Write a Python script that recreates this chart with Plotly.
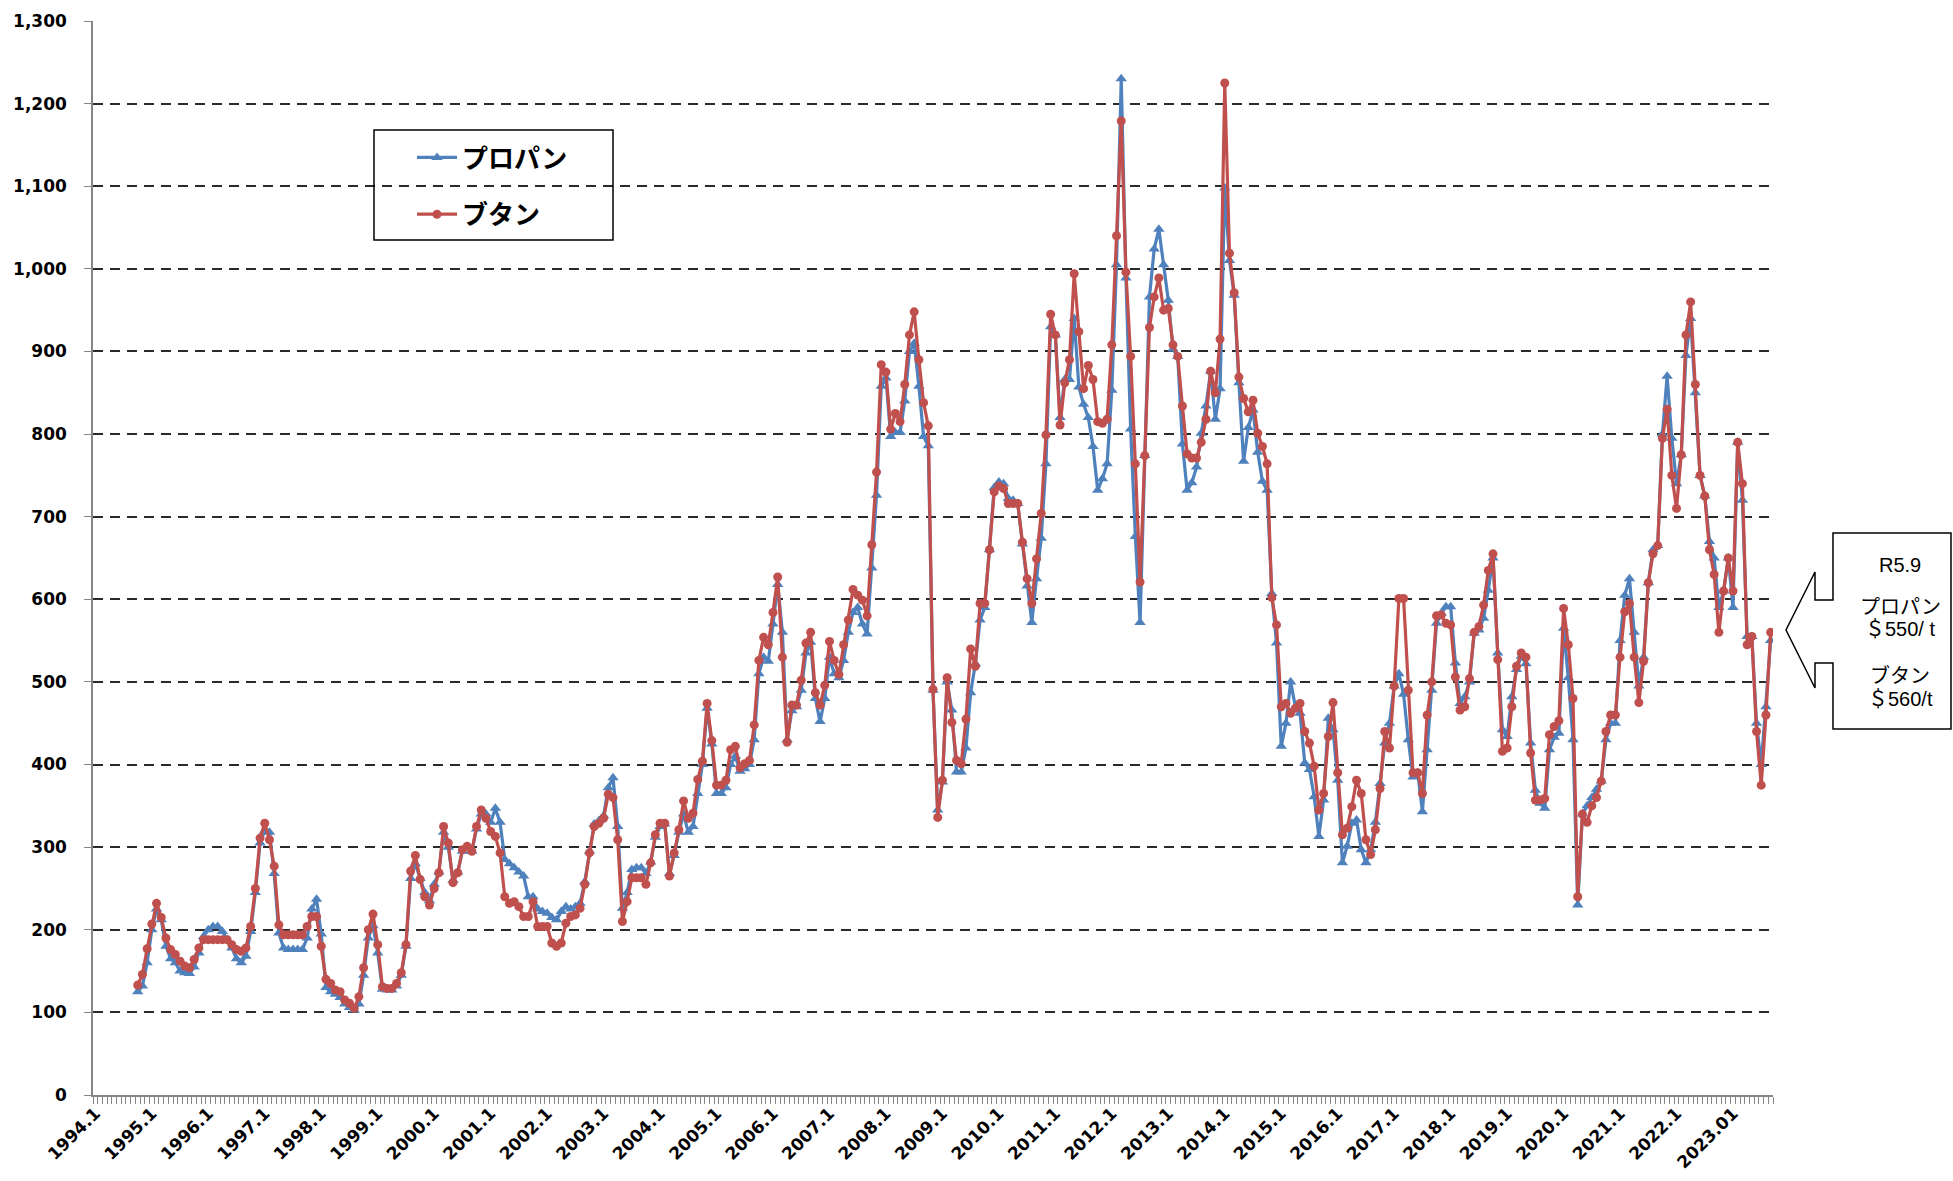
import plotly.graph_objects as go

# Monthly axis: 1994.1 .. 2023.9 (one category per month)
FIRST_YEAR, LAST_YEAR, LAST_MONTH = 1994, 2023, 9
months = [(y, m) for y in range(FIRST_YEAR, LAST_YEAR + 1) for m in range(1, 13)
          if (y, m) <= (LAST_YEAR, LAST_MONTH)]
data_start = (1994, 10)

# Tick labels shown at each January
tick_labels = [f"{y}.1" for y in range(1994, 2023)] + ["2023.01"]

series_names = ["プロパン", "ブタン"]

# Propane contract price ($/t), one line per year, starting 1994.10
propane = [
    125, 132, 160,                                               # 1994 (Oct-Dec)
    200, 225, 212, 180, 165, 160, 150, 148, 147, 155, 172, 192,  # 1995
    200, 204, 204, 198, 188, 178, 165, 160, 168, 198, 245, 305,  # 1996
    320, 318, 268, 196, 178, 176, 176, 176, 176, 190, 225, 237,  # 1997
    195, 130, 125, 122, 118, 110, 106, 103, 110, 145, 190, 205,  # 1998
    172, 128, 127, 127, 132, 145, 180, 262, 280, 262, 245, 235,  # 1999
    255, 270, 318, 300, 260, 270, 295, 300, 295, 322, 340, 340,  # 2000
    330, 347, 330, 285, 280, 275, 270, 265, 240, 240, 225, 222,  # 2001
    220, 215, 212, 222, 228, 225, 228, 232, 258, 295, 328, 332,  # 2002
    338, 372, 384, 325, 226, 245, 273, 275, 275, 268, 282, 312,  # 2003
    325, 328, 268, 290, 318, 340, 318, 325, 365, 400, 468, 425,  # 2004
    365, 365, 372, 400, 410, 392, 395, 400, 430, 510, 530, 525,  # 2005
    570, 618, 560, 430, 465, 470, 490, 535, 548, 480, 452, 480,  # 2006
    530, 510, 505, 526, 560, 584, 590, 570, 558, 638, 726, 858,  # 2007
    868, 797, 802, 802, 840, 900, 910, 858, 797, 786, 490, 345,  # 2008
    379, 500, 466, 391, 391, 420, 487, 522, 575, 590, 660, 735,  # 2009
    742, 740, 722, 720, 716, 667, 616, 572, 625, 674, 764, 930,  # 2010
    920, 820, 866, 866, 940, 857, 836, 820, 785, 732, 746, 764,  # 2011
    853, 1005, 1230, 989, 806, 676, 572, 774, 966, 1024, 1048, 1005,  # 2012
    962, 903, 894, 788, 732, 741, 760, 801, 834, 876, 818, 855,  # 2013
    1098, 1010, 968, 862, 767, 808, 829, 778, 743, 732, 607, 547,  # 2014
    422, 450, 500, 470, 462, 402, 394, 361, 313, 357, 456, 442,  # 2015
    381, 281, 301, 329, 333, 297, 281, 297, 330, 377, 426, 450,  # 2016
    495, 510, 485, 430, 385, 390, 343, 418, 490, 571, 583, 591,  # 2017
    591, 523, 474, 482, 500, 559, 563, 577, 611, 650, 535, 442,  # 2018
    434, 482, 515, 531, 522, 426, 369, 353, 347, 418, 433, 438,  # 2019
    565, 505, 430, 230, 340, 350, 360, 370, 380, 430, 450, 450,  # 2020
    550, 605, 625, 560, 495, 530, 620, 660, 665, 800, 870, 795,  # 2021
    740, 775, 895, 940, 850, 750, 725, 670, 650, 590, 610, 650,  # 2022
    590, 790, 720, 555, 555, 450, 400, 470, 550,                 # 2023 (Jan-Sep)
]

# Butane contract price ($/t), one line per year, starting 1994.10
butane = [
    133, 146, 177,                                               # 1994 (Oct-Dec)
    207, 232, 215, 190, 176, 170, 162, 156, 154, 164, 178, 188,  # 1995
    188, 188, 188, 188, 188, 182, 176, 174, 178, 204, 250, 311,  # 1996
    329, 309, 277, 206, 194, 194, 194, 194, 194, 204, 216, 216,  # 1997
    180, 140, 135, 127, 125, 115, 111, 105, 119, 154, 200, 219,  # 1998
    182, 131, 129, 129, 135, 148, 182, 271, 290, 261, 240, 230,  # 1999
    250, 269, 325, 305, 257, 269, 297, 301, 295, 325, 345, 335,  # 2000
    319, 313, 293, 240, 232, 234, 228, 216, 216, 234, 204, 204,  # 2001
    204, 184, 180, 184, 208, 216, 218, 226, 255, 293, 325, 329,  # 2002
    335, 364, 360, 309, 210, 234, 263, 263, 263, 255, 281, 315,  # 2003
    329, 329, 265, 293, 321, 356, 335, 341, 382, 404, 474, 429,  # 2004
    375, 375, 381, 418, 422, 396, 401, 405, 448, 526, 554, 545,  # 2005
    584, 627, 530, 427, 472, 472, 502, 547, 560, 487, 472, 496,  # 2006
    549, 526, 509, 545, 575, 612, 605, 599, 580, 666, 754, 884,  # 2007
    875, 806, 825, 815, 860, 920, 948, 890, 838, 810, 491, 336,  # 2008
    381, 505, 451, 405, 401, 455, 540, 519, 595, 595, 660, 730,  # 2009
    737, 734, 716, 716, 716, 669, 625, 595, 649, 704, 799, 945,  # 2010
    920, 811, 862, 890, 994, 924, 855, 883, 866, 815, 813, 818,  # 2011
    908, 1040, 1179, 996, 894, 764, 621, 774, 929, 966, 989, 950,  # 2012
    952, 908, 894, 834, 776, 771, 771, 790, 818, 876, 850, 915,  # 2013
    1225, 1019, 971, 869, 843, 827, 841, 801, 785, 764, 602, 569,  # 2014
    470, 474, 462, 468, 474, 440, 426, 398, 345, 365, 434, 475,  # 2015
    390, 315, 323, 349, 381, 365, 309, 291, 321, 371, 440, 420,  # 2016
    495, 601, 601, 490, 390, 390, 365, 460, 500, 580, 581, 571,  # 2017
    569, 506, 466, 470, 504, 560, 567, 593, 635, 655, 527, 416,  # 2018
    420, 470, 519, 535, 530, 414, 357, 357, 359, 436, 446, 453,  # 2019
    589, 545, 480, 240, 340, 330, 350, 360, 380, 440, 460, 460,  # 2020
    530, 585, 595, 530, 475, 525, 620, 655, 665, 795, 830, 750,  # 2021
    710, 775, 920, 960, 860, 750, 725, 660, 630, 560, 610, 650,  # 2022
    610, 790, 740, 545, 555, 440, 375, 460, 560,                 # 2023 (Jan-Sep)
]

# Position of each month on the axis
start_idx = months.index(data_start)
x_vals = list(range(start_idx, start_idx + len(propane)))
jan_idx = [i for i, (y, m) in enumerate(months) if m == 1]

# Plot-area geometry in page pixels (used for paper-coordinate overlays)
W, H = 1953, 1181
PL, PR, PT, PB = 93, 1773, 21, 1095


def paper(xp, yp):
    return (xp - PL) / (PR - PL), (PB - yp) / (PB - PT)


BLUE = "#4F81BD"
RED = "#C0504D"
AXIS_GRAY = "#868686"
TICK_FONT = dict(family="DejaVu Sans", size=17, color="#000000", weight=700)

fig = go.Figure()
fig.add_trace(go.Scatter(
    x=x_vals, y=propane, name=series_names[0], mode="lines+markers",
    line=dict(color=BLUE, width=3.2),
    marker=dict(symbol="triangle-up", size=10, color=BLUE),
    legendgroup="p",
))
fig.add_trace(go.Scatter(
    x=x_vals, y=butane, name=series_names[1], mode="lines+markers",
    line=dict(color=RED, width=3.2),
    marker=dict(symbol="circle", size=9, color=RED),
    legendgroup="b",
))

fig.update_xaxes(
    range=[-0.5, len(months) - 0.5],
    tickmode="array", tickvals=jan_idx, ticktext=tick_labels,
    tickangle=-45, tickfont=TICK_FONT, ticks="",
    minor=dict(ticks="outside", tick0=-0.5, dtick=1, ticklen=7,
               tickcolor=AXIS_GRAY, tickwidth=1, showgrid=False),
    showgrid=False, zeroline=False,
    showline=True, linecolor=AXIS_GRAY, linewidth=1.5,
    automargin=False,
)
fig.update_yaxes(
    range=[0, 1300], dtick=100, tickformat=",",
    tickfont=TICK_FONT, ticks="outside", ticklen=7, tickcolor=AXIS_GRAY,
    ticklabelstandoff=14,
    showgrid=True, gridcolor="#2a2a2a", gridwidth=1.5, griddash="10px,7px",
    zeroline=False, showline=True, linecolor=AXIS_GRAY, linewidth=1.5,
    automargin=False,
)

# Legend frame
lx0, ly0 = paper(374, 130)
lx1, ly1 = paper(613, 240)
shapes = [dict(type="rect", xref="paper", yref="paper", x0=lx0, y0=ly1, x1=lx1, y1=ly0,
               line=dict(color="#000000", width=1.5), fillcolor="rgba(0,0,0,0)")]

# Left-pointing callout on the right edge
callout_pts = [(1833, 533), (1951, 533), (1951, 729), (1833, 729), (1833, 663),
               (1815, 663), (1815, 688), (1786, 630), (1815, 572), (1815, 600),
               (1833, 600)]
path = "M " + " L ".join(f"{paper(px_, py_)[0]:.5f},{paper(px_, py_)[1]:.5f}"
                         for px_, py_ in callout_pts) + " Z"
shapes.append(dict(type="path", xref="paper", yref="paper", path=path,
                   line=dict(color="#000000", width=1.5), fillcolor="#ffffff"))

callout_font = dict(family="Liberation Sans, Noto Sans CJK JP", size=20, color="#000000")
callout_lines = [("R5.9", 565), ("プロパン", 607), ("＄550/ t", 629),
                 ("ブタン", 676), ("＄560/t", 699)]
annotations = []
for text, ypix in callout_lines:
    ax, ay = paper(1900, ypix)
    annotations.append(dict(text=text, x=ax, y=ay, xref="paper", yref="paper",
                            xanchor="center", yanchor="middle", showarrow=False,
                            font=callout_font))

leg_x, leg_y = paper(412, 134)
fig.update_layout(
    width=W, height=H,
    margin=dict(l=PL, r=W - PR, t=PT, b=H - PB, autoexpand=False),
    paper_bgcolor="#ffffff", plot_bgcolor="#ffffff",
    showlegend=True,
    legend=dict(x=leg_x, y=leg_y, xanchor="left", yanchor="top",
                bgcolor="rgba(0,0,0,0)", borderwidth=0,
                font=dict(family="Noto Sans CJK JP", size=26, color="#000000", weight=700),
                tracegroupgap=20, itemwidth=40),
    shapes=shapes,
    annotations=annotations,
)

fig.write_html("out.html")
